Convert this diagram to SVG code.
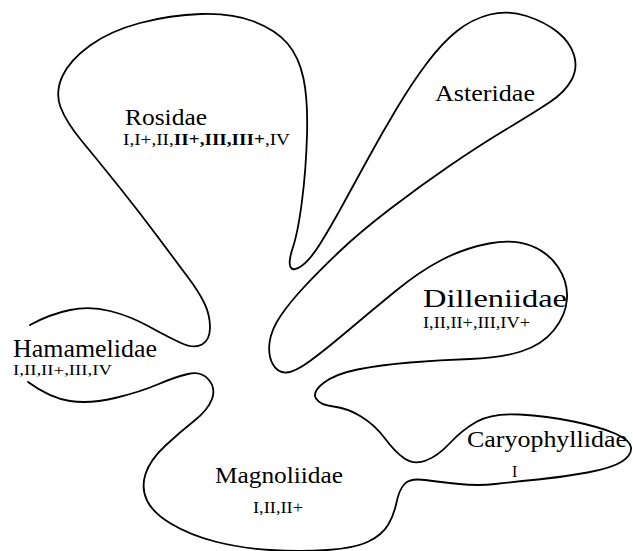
<svg xmlns="http://www.w3.org/2000/svg" width="633" height="551" viewBox="0 0 633 551">
<style>
.outline{fill:none;stroke:#000;stroke-width:1.8;stroke-linecap:round;stroke-linejoin:round}
.name{font-family:"Liberation Serif","Times New Roman",serif;font-size:24px;fill:#000}
.sub{font-family:"Liberation Serif","Times New Roman",serif;font-size:16px;fill:#000}
.b{font-weight:bold}
</style>
<rect width="633" height="551" fill="#fff"/>
<g id="connectors">
<path class="outline" d="M30,325 Q50,314 70,310 Q90,306 110,311 Q130,316 149,326.5 Q168,337 181,343 Q194,349 202,344.5 Q210,340 210,327.5 Q210,315 204.5,303.5 Q199,292 188.5,278 Q178,264 159,238.5 Q140,213 120,188 Q100,163 83,142.5 Q66,122 60.5,107 Q55,92 62.5,76 Q70,60 90,45.5 Q110,31 140,23 Q170,15 201,14 Q232,13 254,21.5 Q276,30 287.5,43.5 Q299,57 303.5,78.5 Q308,100 307,135 Q306,170 302,201 Q298,232 293,247 Q288,262 290.5,267 Q293,272 301.5,266 Q310,260 320,244 Q330,228 341,208 Q352,188 367,160.5 Q382,133 397,108 Q412,83 427,63 Q442,43 457,31 Q472,19 490,14.5 Q508,10 526.5,16 Q545,22 557.5,32 Q570,42 574,55 Q578,68 571.5,80 Q565,92 550,102 Q535,112 507.5,128.5 Q480,145 450,165.5 Q420,186 390,209 Q360,232 340,251 Q320,270 305,286 Q290,302 280.5,316 Q271,330 269.5,343 Q268,356 273,364.5 Q278,373 286.5,372.5 Q295,372 310,361 Q325,350 347.5,331 Q370,312 395,291.5 Q420,271 442.5,259.5 Q465,248 489,243.5 Q513,239 530.5,245.5 Q548,252 558,267 Q568,282 567,298.5 Q566,315 554,330 Q542,345 521,351.5 Q500,358 470,359 Q440,360 410,362.5 Q380,365 357.5,369.5 Q335,374 323.5,383 Q312,392 316,398.5 Q320,405 333.5,406.5 Q347,408 361,416.5 Q375,425 385,438.5 Q395,452 404.5,458.5 Q414,465 426,460.5 Q438,456 450,443 Q462,430 477,421.5 Q492,413 519.5,414.5 Q547,416 573.5,421.5 Q600,427 615,433.5 Q630,440 631,447.5 Q632,455 622,461.5 Q612,468 587.5,472.5 Q563,477 538,479.5 Q513,482 495.5,484 Q478,486 459,484 Q440,482 425,480 Q410,478 404.5,484 Q399,490 396.5,502.5 Q394,515 388,525 Q382,535 368.5,541.5 Q355,548 327.5,550 Q300,552 270,550 Q240,548 215,541.5 Q190,535 171.5,524 Q153,513 147,500.5 Q141,488 145.5,474 Q150,460 165,446 Q180,432 194,421 Q208,410 212,399 Q216,388 208.5,379.5 Q201,371 188,374 Q175,377 157.5,384.5 Q140,392 115,398 Q90,404 70,401 Q50,398 28,382"/>
</g>
<g id="rosidae">
<text class="name" x="125" y="125" textLength="82" lengthAdjust="spacingAndGlyphs">Rosidae</text>
<text class="sub" x="123" y="145" textLength="167" lengthAdjust="spacingAndGlyphs">I,I+,II,<tspan class="b">II+,III,III+</tspan>,IV</text>
</g>
<g id="asteridae">
<text class="name" x="435" y="101" textLength="100" lengthAdjust="spacingAndGlyphs">Asteridae</text>
</g>
<g id="dilleniidae">
<text class="name" x="423" y="307" style="font-size:26px" textLength="144" lengthAdjust="spacingAndGlyphs">Dilleniidae</text>
<text class="sub" x="423" y="328" textLength="107" lengthAdjust="spacingAndGlyphs">I,II,II+,III,IV+</text>
</g>
<g id="hamamelidae">
<text class="name" x="13" y="357" style="font-size:26px" textLength="144" lengthAdjust="spacingAndGlyphs">Hamamelidae</text>
<text class="sub" x="13" y="375" style="font-size:15px" textLength="99" lengthAdjust="spacingAndGlyphs">I,II,II+,III,IV</text>
</g>
<g id="magnoliidae">
<text class="name" x="215" y="483" textLength="128" lengthAdjust="spacingAndGlyphs">Magnoliidae</text>
<text class="sub" x="253" y="513" textLength="50" lengthAdjust="spacingAndGlyphs">I,II,II+</text>
</g>
<g id="caryophyllidae">
<text class="name" x="467" y="447" textLength="160" lengthAdjust="spacingAndGlyphs">Caryophyllidae</text>
<text class="sub" x="512" y="477">I</text>
</g>
</svg>
